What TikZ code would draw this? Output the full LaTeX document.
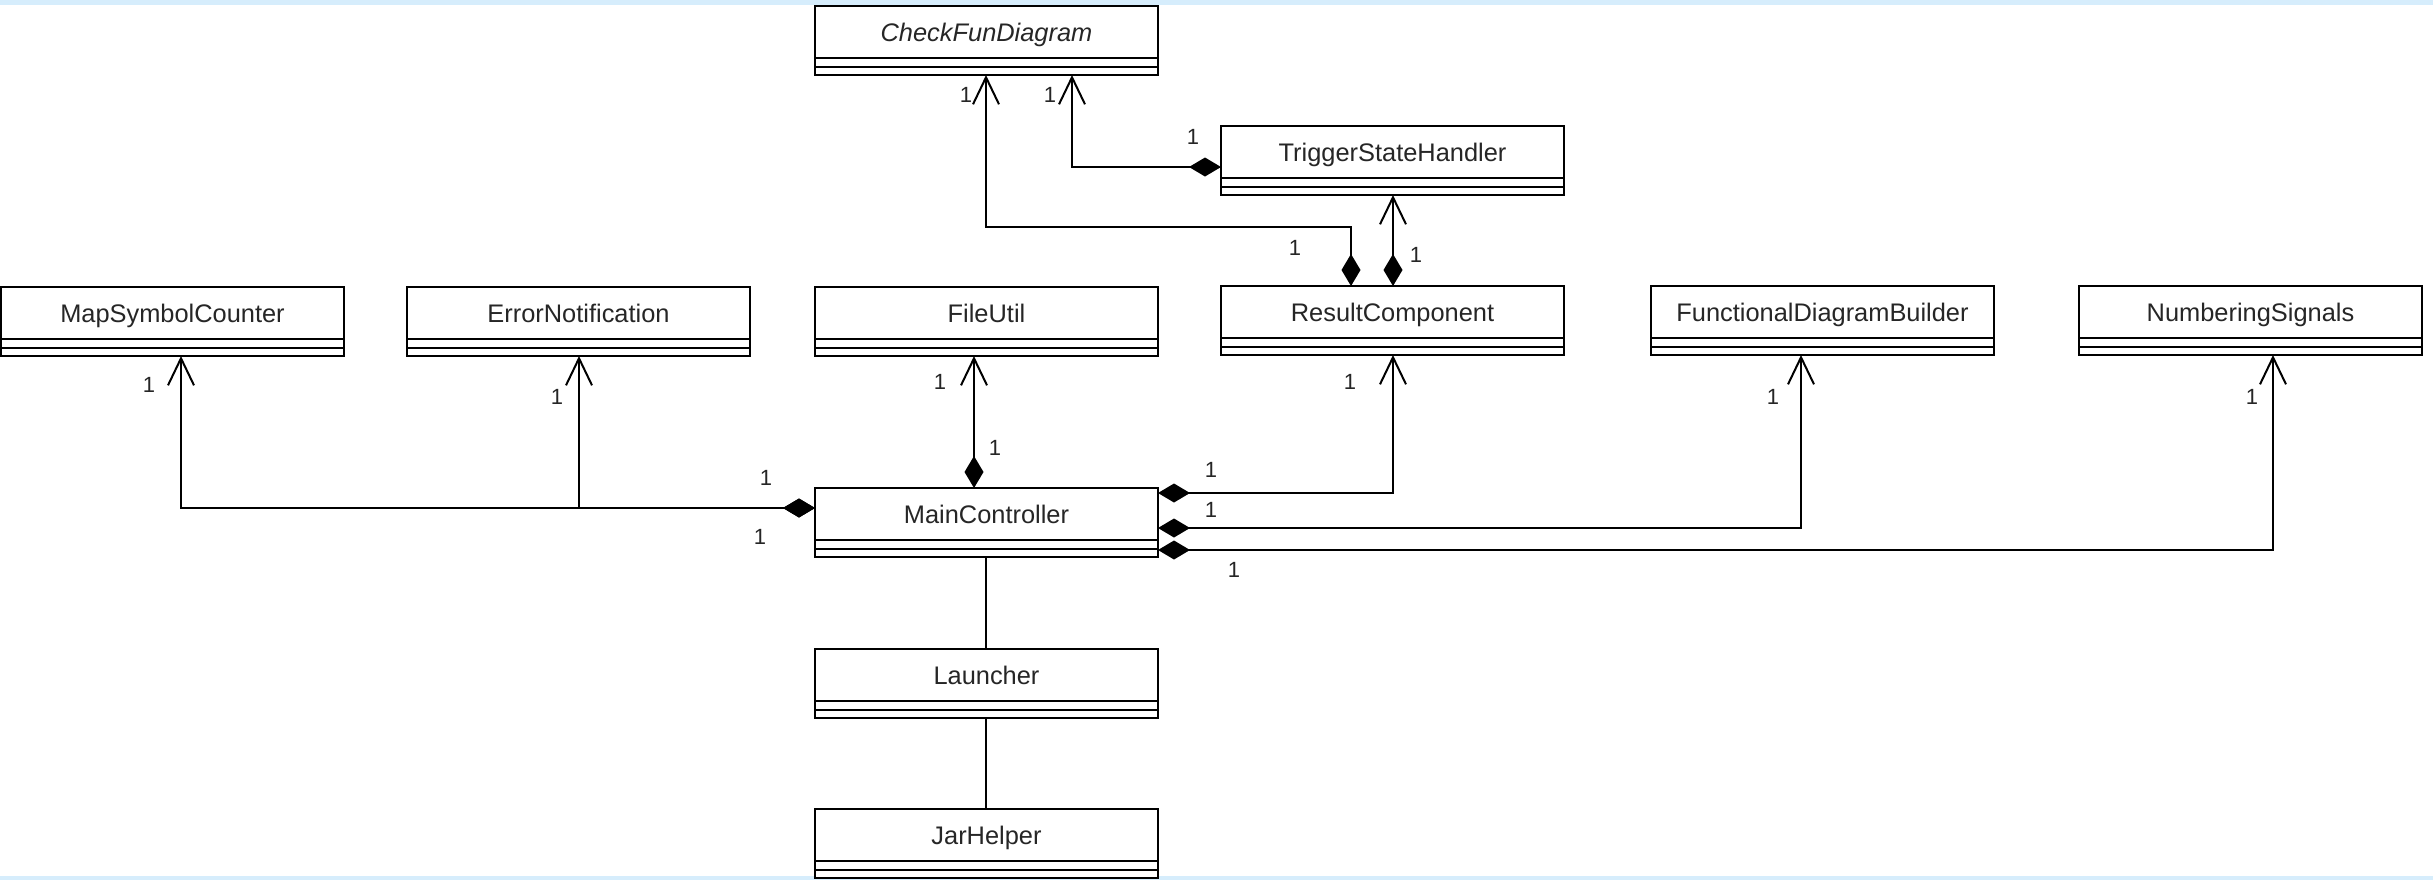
\documentclass[tikz,border=0pt]{standalone}
\usepackage{fontspec}
\setmainfont{Liberation Sans}
\usetikzlibrary{arrows.meta,calc}
\definecolor{bandblue}{RGB}{214,237,252}
\newcommand{\umlcls}[4]{%
  \node[clsbox] (#1) at (#2,#3) {};
  \node[clstext] (#1-name) at ($(#1.north)+(0,26)$) {#4};
  \draw[clsline] ($(#1.north west)+(0,52)$) -- ($(#1.north east)+(0,52)$);
  \draw[clsline] ($(#1.north west)+(0,61)$) -- ($(#1.north east)+(0,61)$);
}
\begin{document}
\begin{tikzpicture}[x=0.5pt,y=-0.5pt,
  clsbox/.style={draw=black,line width=1pt,fill=white,minimum width=171.5pt,minimum height=34.5pt,anchor=north west,inner sep=0pt,outer sep=0pt},
  clstext/.style={font=\fontsize{12.7}{15}\selectfont,text=black!85,inner sep=0pt,text height=9.1pt,text depth=0pt},
  clsline/.style={draw=black,line width=1pt},
  mult/.style={font=\fontsize{11}{13}\selectfont,text=black!85,inner sep=0pt},
  conn/.style={draw=black,line width=1pt},
  comp/.style={conn,{Diamond[length=16pt,width=9.5pt]}-{Straight Barb[length=13.5pt,width=13pt]}},
]
\useasboundingbox (0,0) rectangle (2433,880);
\fill[bandblue] (0,0) rectangle (2433,5);
\fill[bandblue] (0,876) rectangle (2433,880);

\umlcls{CheckFun}{815}{6}{\itshape CheckFunDiagram}
\umlcls{Trigger}{1221}{126}{TriggerStateHandler}
\umlcls{Result}{1221}{286}{ResultComponent}
\umlcls{Map}{1}{287}{MapSymbolCounter}
\umlcls{Err}{407}{287}{ErrorNotification}
\umlcls{File}{815}{287}{FileUtil}
\umlcls{FDB}{1651}{286}{FunctionalDiagramBuilder}
\umlcls{NS}{2079}{286}{NumberingSignals}
\umlcls{Main}{815}{488}{MainController}
\umlcls{Launcher}{815}{649}{Launcher}
\umlcls{Jar}{815}{809}{JarHelper}

% connectors
\draw[comp] ($(Result.north west)+(130,0)$) -- ++(0,-59) -| ($(CheckFun.south west)+(171,0)$);
\draw[comp] ($(Trigger.north west)+(0,41)$) -| ($(CheckFun.south west)+(257,0)$);
\draw[comp] ($(Result.north west)+(172,0)$) -- ($(Trigger.south west)+(172,0)$);
\draw[comp] ($(Main.north west)+(0,20)$) -| ($(Map.south west)+(180,0)$);
\draw[comp] ($(Main.north west)+(0,20)$) -| ($(Err.south west)+(172,0)$);
\draw[comp] ($(Main.north west)+(159,0)$) -- ($(File.south west)+(159,0)$);
\draw[comp] ($(Main.north east)+(0,5)$) -| ($(Result.south west)+(172,0)$);
\draw[comp] ($(Main.north east)+(0,40)$) -| ($(FDB.south west)+(150,0)$);
\draw[comp] ($(Main.north east)+(0,62)$) -| ($(NS.south west)+(194,0)$);
\draw[conn] ($(Main.south west)+(171,0)$) -- ($(Launcher.north west)+(171,0)$);
\draw[conn] ($(Launcher.south west)+(171,0)$) -- ($(Jar.north west)+(171,0)$);

% multiplicities
\node[mult] (m1) at (966,95) {1};
\node[mult] (m2) at (1050,95) {1};
\node[mult] (m3) at (1193,137) {1};
\node[mult] (m4) at (1295,248) {1};
\node[mult] (m5) at (1416,255) {1};
\node[mult] (m6) at (149,385) {1};
\node[mult] (m7) at (557,397) {1};
\node[mult] (m8) at (766,478) {1};
\node[mult] (m9) at (760,537) {1};
\node[mult] (m10) at (940,382) {1};
\node[mult] (m11) at (995,448) {1};
\node[mult] (m12) at (1211,470) {1};
\node[mult] (m13) at (1350,382) {1};
\node[mult] (m14) at (1211,510) {1};
\node[mult] (m15) at (1773,397) {1};
\node[mult] (m16) at (1234,570) {1};
\node[mult] (m17) at (2252,397) {1};
\end{tikzpicture}
\end{document}
